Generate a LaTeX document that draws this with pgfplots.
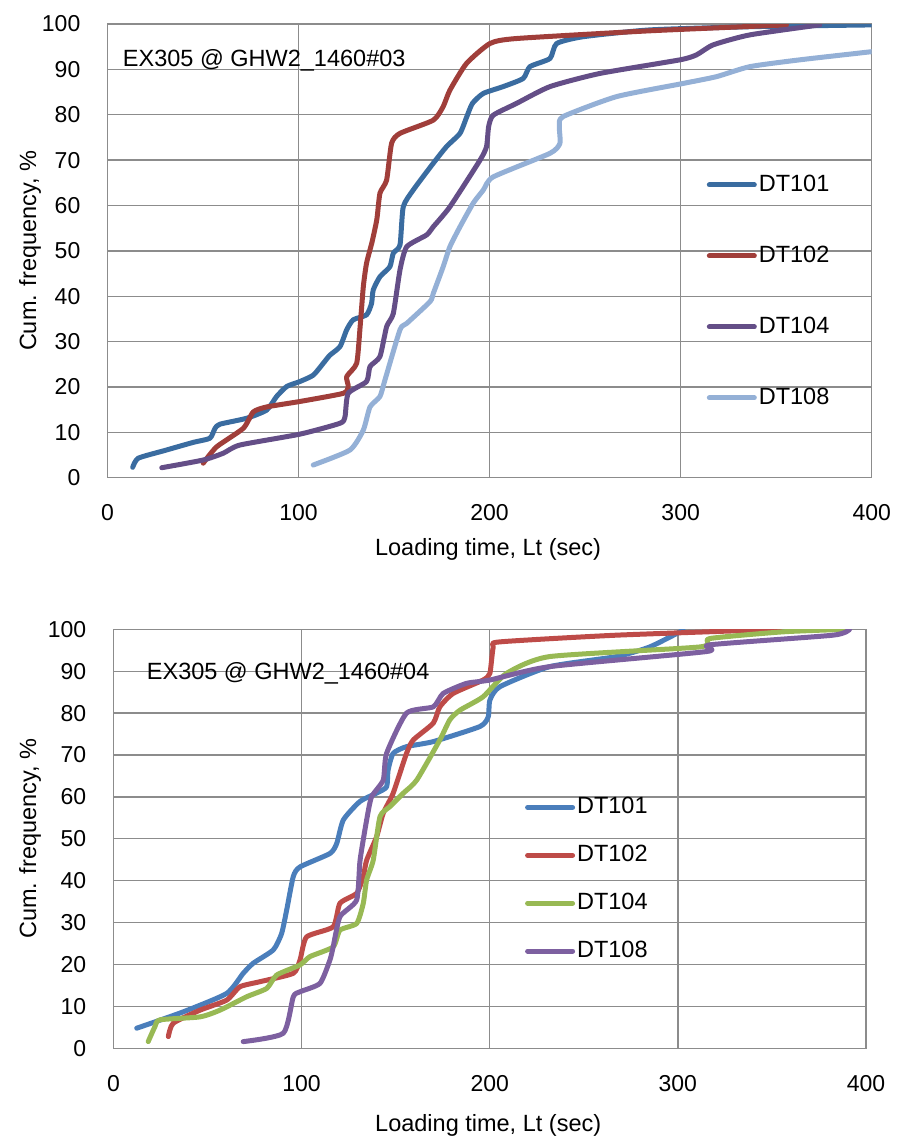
\documentclass[border=0pt]{standalone}
\usepackage{fontspec}
\setmainfont{Liberation Sans}
\usepackage{pgfplots}
\pgfplotsset{compat=1.18}
\definecolor{tA}{RGB}{58,108,160}
\definecolor{tB}{RGB}{160,62,58}
\definecolor{tC}{RGB}{100,78,135}
\definecolor{tD}{RGB}{148,176,214}
\definecolor{bA}{RGB}{74,126,187}
\definecolor{bB}{RGB}{190,75,72}
\definecolor{bC}{RGB}{152,185,84}
\definecolor{bD}{RGB}{125,96,160}
\definecolor{gridc}{RGB}{140,140,140}
\pgfplotsset{
  common/.style={
    scale only axis,
    xmin=0, xmax=400, ymin=0, ymax=100,
    xtick={0,100,...,400}, ytick={0,10,...,100},
    grid=major,
    major grid style={gridc, line width=1.3pt},
    axis line style={gridc, line width=1.3pt},
    major tick length=0pt,
    tick style={draw=none},
    /pgf/number format/assume math mode=true,
    ticklabel style={font=\fontsize{23}{27}\selectfont},
    yticklabel style={inner sep=0pt, xshift=-27pt, anchor=east},
    xticklabel style={inner sep=0pt, yshift=-27pt, anchor=north},
    label style={font=\fontsize{23.5}{28}\selectfont},
    every axis plot/.append style={line width=5pt, smooth, tension=0.35, line cap=round, line join=round},
    legend cell align=left,
    legend image code/.code={\draw[#1, smooth=false] (0pt,0pt) -- (45pt,0pt);},
  }
}
\begin{document}
\fontsize{23.5}{28}\selectfont
\begin{tikzpicture}
\path[use as bounding box] (0pt,0pt) rectangle (899pt,-1137pt);
\begin{axis}[common,
  at={(107.5pt,-477.7pt)}, anchor=south west,
  width=764.2pt, height=453.7pt,
  xlabel={Loading time, Lt (sec)},
  ylabel={Cum. frequency, \%},
  xlabel style={at={(axis description cs:0.498,-0.159)}, anchor=center},
  ylabel style={at={(axis description cs:-0.1014,0.5)}, anchor=center},
  legend style={draw=none, fill=none, inner sep=0pt, at={(axis cs:313.6,67.2)}, anchor=north west,
    row sep=47pt, font=\fontsize{23.5}{28}\selectfont},
]
\addplot[tA] coordinates {(13.2,2.3)(16.1,4.3)(30,6)(45,7.8)(53.6,8.7)(56.3,10.9)(58.9,11.8)(72.8,13.1)(83.3,14.9)(88.5,17.9)(93.8,20.1)(100.7,21.2)(107.7,22.6)(112.9,25.2)(116.4,27.0)(121.7,28.9)(125.2,32.6)(128.6,34.8)(135.6,35.9)(138.2,38.4)(139.1,41.4)(142.6,44.3)(147.8,46.5)(149.6,49.5)(153.1,51.3)(154.8,59.7)(160,63.4)(170.5,69.3)(177.5,73)(184.5,75.9)(188,79.5)(191,82.5)(196.7,84.7)(207.1,86.2)(217.6,88.0)(221.1,90.6)(231.6,92.4)(235.1,95.7)(249,97.2)(283.9,98.7)(336.2,99.4)(400,99.8)};
\addlegendentry{DT101}
\addplot[tB] coordinates {(50.1,3.2)(57.1,6.8)(71.1,10.9)(76.3,14.5)(83.3,15.6)(100.7,16.8)(123.4,18.6)(126,20.1)(125.2,22.3)(130.4,25.2)(132.1,32.6)(133.9,42.1)(135.6,47.3)(138.5,52)(141,57)(142.6,62.7)(146.1,65.6)(148.7,73.7)(153.1,75.9)(170.5,78.8)(175.7,81.8)(179.2,85.4)(187.9,91.3)(200.2,95.7)(214.1,96.8)(283.9,98.5)(355.4,99.8)};
\addlegendentry{DT102}
\addplot[tC] coordinates {(28.4,2.2)(50.1,3.9)(60.6,5.4)(69.3,7.2)(100.7,9.6)(121.7,12)(124.3,13.4)(126,18.6)(135.6,21.2)(137.4,24.5)(142.6,26.7)(146.1,33.3)(149.6,36.2)(153.1,45.8)(156.6,50.9)(167,53.5)(170.5,55.3)(179.2,59.7)(195,70)(198.4,73)(199.5,77.4)(201.9,79.9)(214.1,82.5)(231.6,86.2)(257.7,89.1)(299.6,92.1)(308.3,93.2)(317,95.4)(336.2,97.6)(372.8,99.8)};
\addlegendentry{DT104}
\addplot[tD] coordinates {(107.7,2.8)(126.9,6.1)(133.9,10.5)(137.4,15.6)(142.6,17.9)(145.2,21.5)(153.1,32.6)(156.6,34)(168.8,38.8)(170.5,40.6)(175.7,46.5)(179.2,50.9)(184.5,55.3)(191.4,60.5)(196.7,63.4)(201.9,66.3)(231.6,71.5)(236.8,73.7)(236.5,77.4)(238.5,79.6)(266.5,84)(301.3,86.9)(318.8,88.4)(336.2,90.6)(362.3,92.1)(400,93.9)};
\addlegendentry{DT108}
\node[anchor=west, inner sep=0pt] at (axis cs:8,92.0) {EX305 @ GHW2\_1460\#03};
\end{axis}
\begin{axis}[common,
  at={(113.4pt,-1048.3pt)}, anchor=south west,
  width=752.6pt, height=419pt,
  xlabel={Loading time, Lt (sec)},
  ylabel={Cum. frequency, \%},
  xlabel style={at={(axis description cs:0.498,-0.183)}, anchor=center},
  ylabel style={at={(axis description cs:-0.1108,0.5)}, anchor=center},
  legend style={draw=none, fill=none, inner sep=0pt, at={(axis cs:218.7,60.4)}, anchor=north west,
    row sep=24pt, font=\fontsize{23.5}{28}\selectfont},
]
\addplot[bA] coordinates {(12.4,4.8)(37.1,8.7)(60.2,13.1)(69,17.9)(74.3,20.3)(85,23.5)(89.4,27.4)(92.1,33)(95.6,41)(99.2,43.3)(115.1,46.5)(118.7,48.9)(122.2,54.5)(131,58.9)(139.9,60.9)(145.2,62.4)(146,66.4)(148.7,70.4)(155.8,72)(170,73.2)(194.8,76.8)(199.2,79.1)(200.1,83.1)(205.4,86.3)(232,91.1)(267.4,93.5)(285.1,95.8)(302.8,99.8)};
\addlegendentry{DT101}
\addplot[bB] coordinates {(29.2,2.8)(31.8,6)(46,9.1)(60.2,11.5)(67.3,14.7)(77.9,15.9)(95.6,17.9)(99.2,21.1)(102.7,26.6)(116.8,29)(120.4,34.6)(129.3,37)(132.8,41)(134.6,44.9)(139.9,50.5)(143.4,56.1)(148.7,60.9)(155.8,70.4)(159.4,73.6)(170,77.6)(173.5,81.5)(180.6,84.7)(196.5,87.9)(200.1,89.5)(201.9,95.8)(205.4,97)(267.4,98.6)(354.2,100)};
\addlegendentry{DT102}
\addplot[bC] coordinates {(18.5,1.6)(22.1,5.2)(24.8,6.8)(46,7.5)(56.6,9.1)(70.8,12.3)(81.5,14.3)(86.8,17.5)(99.2,19.9)(104.5,21.9)(116.8,24.2)(120.4,28.2)(129.3,29.8)(132.8,34.6)(134.6,40.2)(138.1,44.9)(141.7,55.3)(147,57.7)(154.1,60.9)(161.2,64)(173.5,73.6)(178.8,78.4)(184.2,80.7)(196.5,83.9)(209,89.5)(232,93.5)(311.8,95.8)(317,97.8)(356,99.4)(389.6,100)};
\addlegendentry{DT104}
\addplot[bD] coordinates {(69,1.6)(90.3,3.6)(95.6,12.3)(99.2,13.5)(109.8,15.5)(115.1,21.1)(116.8,24.2)(120.4,31.4)(129.3,35.4)(131.1,44.9)(134.6,54.5)(137.2,60)(143.4,64)(145.2,70.4)(155.8,80)(170,81.5)(175.3,84.7)(187.7,87.1)(200.1,87.9)(232,91.1)(315.3,94.7)(317,96.3)(382.5,98.6)(391.3,100)};
\addlegendentry{DT108}
\node[anchor=west, inner sep=0pt] at (axis cs:17.7,89.5) {EX305 @ GHW2\_1460\#04};
\end{axis}
\end{tikzpicture}
\end{document}
